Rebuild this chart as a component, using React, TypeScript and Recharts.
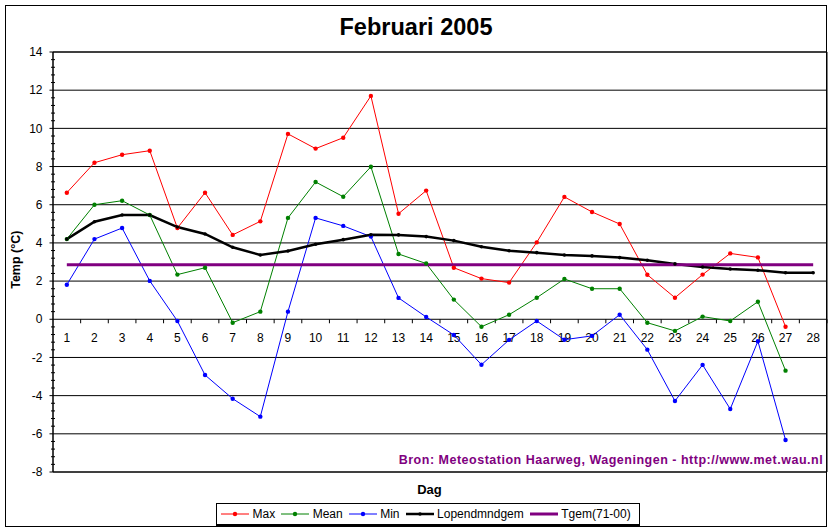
import React from 'react';
import { LineChart, Line, XAxis, YAxis, ReferenceLine, ReferenceArea } from 'recharts';

const DAYS = ['1','2','3','4','5','6','7','8','9','10','11','12','13','14','15','16','17','18','19','20','21','22','23','24','25','26','27','28'];
const MAX = [6.63, 8.20, 8.62, 8.83, 4.78, 6.63, 4.42, 5.13, 9.71, 8.94, 9.51, 11.70, 5.53, 6.74, 2.70, 2.13, 1.92, 4.03, 6.41, 5.62, 4.99, 2.33, 1.13, 2.34, 3.45, 3.24, -0.39, null];
const MEAN = [4.20, 6.00, 6.21, 5.46, 2.34, 2.70, -0.18, 0.40, 5.31, 7.19, 6.42, 7.99, 3.42, 2.92, 1.03, -0.39, 0.24, 1.13, 2.11, 1.60, 1.60, -0.18, -0.61, 0.14, -0.09, 0.92, -2.69, null];
const MIN = [1.81, 4.20, 4.78, 2.01, -0.09, -2.92, -4.16, -5.10, 0.40, 5.31, 4.89, 4.33, 1.12, 0.12, -0.82, -2.38, -1.08, -0.09, -1.07, -0.87, 0.24, -1.59, -4.28, -2.39, -4.70, -1.15, -6.32, null];
const LOPEND = [4.20, 5.11, 5.46, 5.46, 4.83, 4.47, 3.77, 3.37, 3.58, 3.93, 4.17, 4.43, 4.42, 4.33, 4.12, 3.80, 3.59, 3.49, 3.37, 3.32, 3.23, 3.09, 2.90, 2.74, 2.63, 2.57, 2.44, 2.44];
const TGEM = [2.85, 2.85, 2.85, 2.85, 2.85, 2.85, 2.85, 2.85, 2.85, 2.85, 2.85, 2.85, 2.85, 2.85, 2.85, 2.85, 2.85, 2.85, 2.85, 2.85, 2.85, 2.85, 2.85, 2.85, 2.85, 2.85, 2.85, 2.85];

const Y_MAJOR_TICKS = [-8, -6, -4, -2, 0, 2, 4, 6, 8, 10, 12, 14];
const Y_MINOR_PER_MAJOR = 5;

const TITLE = 'Februari 2005';
const Y_LABEL = 'Temp (°C)';
const X_LABEL = 'Dag';
const SOURCE = 'Bron: Meteostation Haarweg, Wageningen - http://www.met.wau.nl';

const SERIES = [
  { key: 'max', name: 'Max', color: '#FF0000', width: 1, dot: 2.2 },
  { key: 'mean', name: 'Mean', color: '#008000', width: 1, dot: 2.2 },
  { key: 'min', name: 'Min', color: '#0000FF', width: 1, dot: 2.2 },
  { key: 'lopend', name: 'Lopendmndgem', color: '#000000', width: 2.5, dot: 1.8 },
  { key: 'tgem', name: 'Tgem(71-00)', color: '#800080', width: 3, dot: 0 },
];

const data = DAYS.map((day, i) => ({
  day,
  max: MAX[i],
  mean: MEAN[i],
  min: MIN[i],
  lopend: LOPEND[i],
  tgem: TGEM[i],
}));

const Y_ALL_TICKS: number[] = [];
for (let i = 0; i < Y_MAJOR_TICKS.length - 1; i++) {
  const step = (Y_MAJOR_TICKS[i + 1] - Y_MAJOR_TICKS[i]) / Y_MINOR_PER_MAJOR;
  for (let k = 0; k < Y_MINOR_PER_MAJOR; k++) {
    Y_ALL_TICKS.push(Math.round((Y_MAJOR_TICKS[i] + k * step) * 100) / 100);
  }
}
Y_ALL_TICKS.push(Y_MAJOR_TICKS[Y_MAJOR_TICKS.length - 1]);

const FONT = '"Liberation Sans", Arial, Helvetica, sans-serif';

const YTick = (props: any) => {
  const { x, y, payload } = props;
  const v = payload.value;
  const isMajor = Y_MAJOR_TICKS.indexOf(v) >= 0;
  return (
    <g>
      {isMajor ? (
        <line x1={x - 3.5} x2={x} y1={y} y2={y} stroke="#000" strokeWidth={1} />
      ) : (
        <line x1={x - 2} x2={x + 2} y1={y} y2={y} stroke="#000" strokeWidth={1} />
      )}
      {isMajor && (
        <text x={x - 10.5} y={y} dy="0.35em" textAnchor="end" fontSize={12} fontFamily={FONT} fill="#000">
          {v}
        </text>
      )}
    </g>
  );
};

const ZeroAxis = (props: any) => {
  const { x1, x2, y1 } = props;
  const bw = (x2 - x1) / DAYS.length;
  return (
    <g>
      <line x1={x1} x2={x2} y1={y1} y2={y1} stroke="#000" strokeWidth={1} />
      {DAYS.map((d, i) => (
        <g key={d}>
          <line x1={x1 + (i + 1) * bw} x2={x1 + (i + 1) * bw} y1={y1} y2={y1 + 4} stroke="#000" strokeWidth={1} />
          <text x={x1 + (i + 0.5) * bw} y={y1 + 22.4} textAnchor="middle" fontSize={12} fontFamily={FONT} fill="#000">
            {d}
          </text>
        </g>
      ))}
    </g>
  );
};

const LegendBox = () => (
  <div
    style={{
      position: 'absolute',
      left: 216,
      top: 503,
      width: 424,
      height: 23,
      boxSizing: 'border-box',
      border: '1px solid #000',
      borderBottomWidth: 2,
      background: '#fff',
      display: 'flex',
      alignItems: 'center',
      paddingLeft: 4,
      fontFamily: FONT,
      fontSize: 12,
      color: '#000',
      whiteSpace: 'nowrap',
    }}
  >
    {SERIES.map((s) => (
      <div key={s.key} style={{ display: 'flex', alignItems: 'center', marginRight: 6 }}>
        <svg width={28} height={10} style={{ display: 'block', marginRight: 3.5 }}>
          <line x1={0} x2={28} y1={5} y2={5} stroke={s.color} strokeWidth={s.width} />
          {s.dot > 0 && <circle cx={14} cy={5} r={s.dot} fill={s.color} />}
        </svg>
        <span>{s.name}</span>
      </div>
    ))}
  </div>
);

export default function App() {
  return (
    <div style={{ position: 'absolute', left: 0, top: 0, width: 832, height: 532, background: '#fff', overflow: 'hidden' }}>
      <div
        style={{
          position: 'absolute',
          left: 5,
          top: 5,
          width: 822,
          height: 522,
          boxSizing: 'border-box',
          border: '1px solid #000',
        }}
      />
      <div style={{ position: 'absolute', left: 0, top: 0 }}>
        <LineChart width={832} height={532} data={data} margin={{ top: 52, right: 5, bottom: 60, left: 0 }}>
          <XAxis dataKey="day" scale="band" hide />
          <YAxis
            domain={[-8, 14]}
            ticks={Y_ALL_TICKS}
            interval={0}
            width={53}
            tickSize={0}
            tickMargin={0}
            tickLine={false}
            axisLine={{ stroke: '#000' }}
            tick={<YTick />}
            allowDataOverflow
          />
          {Y_MAJOR_TICKS.filter((v) => v !== 0).map((v) => (
            <ReferenceLine key={v} y={v} stroke="#000" strokeWidth={1} />
          ))}
          <ReferenceArea y1={-8} y2={14} fill="none" stroke="#000" strokeWidth={1} fillOpacity={0} />
          <ReferenceLine y={0} shape={<ZeroAxis />} />
          {SERIES.map((s) => (
            <Line
              key={s.key}
              dataKey={s.key}
              name={s.name}
              stroke={s.color}
              strokeWidth={s.width}
              dot={s.dot > 0 ? { r: s.dot, fill: s.color, stroke: s.color, strokeWidth: 0 } : false}
              activeDot={false}
              isAnimationActive={false}
            />
          ))}
        </LineChart>
      </div>
      <svg width={832} height={532} style={{ position: 'absolute', left: 0, top: 0, pointerEvents: 'none' }}>
        <text x={416} y={35} textAnchor="middle" fontFamily={FONT} fontWeight="bold" fontSize={23} textLength={153} lengthAdjust="spacingAndGlyphs" fill="#000">
          {TITLE}
        </text>
        <text
          transform="translate(19.7, 259.7) rotate(-90)"
          textAnchor="middle"
          fontFamily={FONT}
          fontWeight="bold"
          fontSize={12.5}
          fill="#000"
        >
          {Y_LABEL}
        </text>
        <text x={429.5} y={494} textAnchor="middle" fontFamily={FONT} fontWeight="bold" fontSize={13} fill="#000">
          {X_LABEL}
        </text>
        <text x={822.7} y={464} textAnchor="end" fontFamily={FONT} fontWeight="bold" fontSize={12.5} textLength={424} lengthAdjust="spacing" fill="#800080">
          {SOURCE}
        </text>
      </svg>
      <LegendBox />
    </div>
  );
}
